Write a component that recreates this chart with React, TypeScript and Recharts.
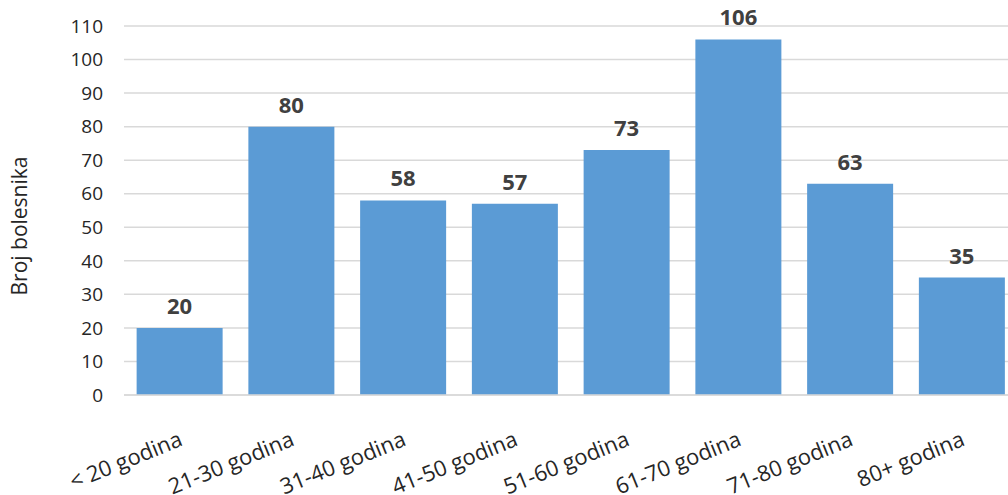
import React from "react";
import { BarChart, Bar, XAxis, YAxis, CartesianGrid, LabelList } from "recharts";

const categories = [
  "< 20 godina",
  "21-30 godina",
  "31-40 godina",
  "41-50 godina",
  "51-60 godina",
  "61-70 godina",
  "71-80 godina",
  "80+ godina",
];
const patients = [20, 80, 58, 57, 73, 106, 63, 35];
const yTicks = [0, 10, 20, 30, 40, 50, 60, 70, 80, 90, 100, 110];

const data = categories.map((name, i) => ({ name, value: patients[i] }));

const FONT = "'Open Sans', sans-serif";

const AngledTick = (props: any) => {
  const { x, y, payload } = props;
  const tx = x + 4;
  const ty = y + 42;
  return (
    <text
      x={tx}
      y={ty}
      transform={`rotate(-22, ${tx}, ${ty})`}
      textAnchor="end"
      fontFamily={FONT}
      fontSize={22}
      fill="#262626"
    >
      {payload.value}
    </text>
  );
};

export default function App() {
  return (
    <div
      style={{
        position: "absolute",
        left: 0,
        top: 0,
        width: 1008,
        height: 495,
        overflow: "hidden",
        background: "#fff",
      }}
    >
      <BarChart
        width={1030}
        height={495}
        data={data}
        margin={{ top: 26, right: 12, bottom: 0, left: 44 }}
        barCategoryGap="11.3%"
      >
        <CartesianGrid vertical={false} stroke="#D9D9D9" strokeWidth={1.5} />
        <XAxis
          dataKey="name"
          height={100}
          tick={<AngledTick />}
          tickLine={false}
          axisLine={{ stroke: "#D9D9D9", strokeWidth: 1.5 }}
          interval={0}
        />
        <YAxis
          width={80}
          domain={[0, 110]}
          ticks={yTicks}
          interval={0}
          tickLine={false}
          axisLine={false}
          tickSize={0}
          tickMargin={21}
          tick={{ fontFamily: FONT, fontSize: 19, fill: "#262626" }}
          label={{
            value: "Broj bolesnika",
            angle: -90,
            position: "insideLeft",
            offset: -24,
            dy: 85,
            style: { fontFamily: FONT, fontSize: 21, fill: "#262626" },
          }}
        />
        <Bar dataKey="value" fill="#5B9BD5" isAnimationActive={false}>
          <LabelList
            dataKey="value"
            position="top"
            offset={14}
            style={{ fontFamily: FONT, fontSize: 22, fontWeight: 700, fill: "#404040" }}
          />
        </Bar>
      </BarChart>
    </div>
  );
}
